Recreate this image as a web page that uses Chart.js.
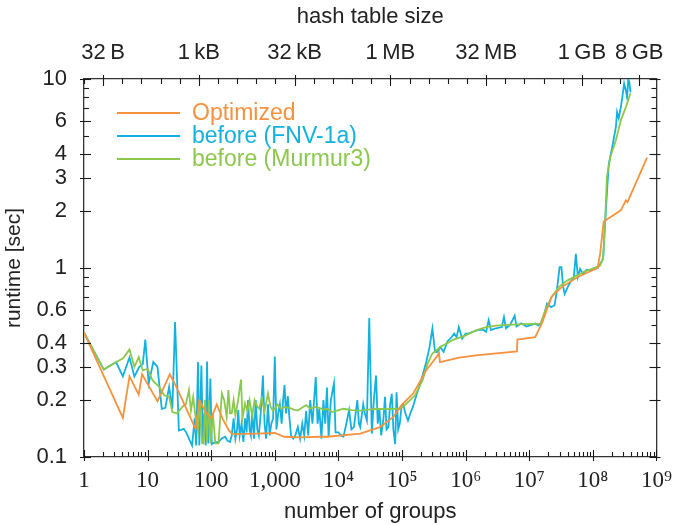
<!DOCTYPE html>
<html>
<head>
<meta charset="utf-8">
<title>runtime vs number of groups</title>
<script src="https://cdn.jsdelivr.net/npm/chart.js@4.4.0/dist/chart.umd.min.js"></script>
<style>
  html, body { margin: 0; padding: 0; background: #fff; }
</style>
</head>
<body>
<canvas id="myChart" width="682" height="525"></canvas>
<script>
// measured runtimes [sec] per number of groups
const groupsOpt = [1, 4.08, 5.19, 7.25, 8.18, 14.3, 22.3, 27.5, 56.6, 65, 84, 100, 122, 150, 186, 210, 240, 500, 1000, 1400,
  2500, 5000, 6700, 22000, 45000, 73000, 98000, 150000, 240000, 365000, 380000, 395000, 790000, 1440000, 6.4e6, 6.5e6,
  1.24e7, 1.57e7, 2.24e7, 3.2e7, 5.8e7, 1.19e8, 1.3e8, 1.48e8, 2.75e8, 3.3e8, 3.5e8, 7.1e8];
const runtimeOpt = [0.455, 0.161, 0.267, 0.214, 0.274, 0.197, 0.274, 0.24, 0.141, 0.2, 0.17, 0.16, 0.19, 0.16, 0.14, 0.133, 0.132, 0.133, 0.134, 0.128,
  0.127, 0.128, 0.128, 0.133, 0.144, 0.163, 0.188, 0.217, 0.288, 0.345, 0.356, 0.318, 0.336, 0.345, 0.362, 0.418,
  0.431, 0.508, 0.703, 0.79, 0.896, 1.0, 1.19, 1.76, 2.02, 2.28, 2.23, 3.84];

const groupsFnv = [1, 2.05, 3.2, 4.08, 5.19, 6.2, 7.4, 8.4, 9.2, 10.4, 12.3, 14.3, 16.7, 19, 21.8, 24.5, 27, 31, 37, 40.4,
  50, 55, 58, 62, 65, 70, 74, 78, 82, 86, 90, 97, 102, 115, 130, 145, 166, 180, 197, 210,
  225, 240, 255, 266, 280, 300, 320, 340, 360, 380, 400, 420, 440, 470, 500, 530, 560, 600, 650, 690,
  730, 780, 830, 880, 940, 1000, 1060, 1130, 1200, 1280, 1350, 1420, 1500, 1600, 1700, 1800, 1950, 2100, 2300, 2500,
  2700, 2900, 3100, 3350, 3600, 3900, 4400, 4700, 5000, 5400, 5800, 6200, 6600, 7000, 7600, 8500, 9000, 10000, 11000, 12000,
  13300, 14700, 16000, 17500, 19800, 21000, 22000, 24500, 26000, 28000, 30500, 33500, 36000, 39000, 41500, 44000, 47000, 51000, 54000, 57000,
  61000, 65000, 69000, 73000, 78000, 82000, 87000, 92000, 98000, 104000, 113000, 124000, 135000, 148000, 170000, 200000, 240000, 270000, 300000, 330000,
  360000, 400000, 450000, 520000, 600000, 660000, 720000, 780000, 880000, 1e6, 1.1e6, 1.3e6, 1.6e6, 1.9e6, 2.1e6, 2.3e6, 2.5e6, 3e6, 3.7e6, 4e6,
  4.3e6, 5e6, 5.9e6, 6.3e6, 7.5e6, 9e6, 1.24e7, 1.4e7, 1.6e7, 1.9e7, 2.2e7, 2.5e7, 2.7e7, 3.0e7, 3.2e7, 3.4e7, 3.6e7, 4.0e7, 4.5e7, 5.0e7,
  5.4e7, 5.8e7, 6.3e7, 7.0e7, 8.0e7, 9.3e7, 1.05e8, 1.19e8, 1.3e8, 1.45e8, 1.6e8, 1.78e8, 2.0e8, 2.3e8, 2.4e8, 2.55e8, 2.75e8, 2.9e8, 3.1e8, 3.3e8,
  3.45e8, 3.6e8, 3.75e8, 3.9e8];
const runtimeFnv = [0.455, 0.29, 0.318, 0.267, 0.336, 0.267, 0.3, 0.31, 0.418, 0.245, 0.318, 0.3, 0.18, 0.182, 0.235, 0.18, 0.518, 0.138, 0.141, 0.135,
  0.115, 0.16, 0.115, 0.318, 0.115, 0.305, 0.12, 0.17, 0.115, 0.32, 0.118, 0.26, 0.117, 0.12, 0.12, 0.125, 0.128, 0.122, 0.12, 0.13,
  0.16, 0.125, 0.14, 0.177, 0.13, 0.15, 0.12, 0.16, 0.135, 0.2, 0.14, 0.13, 0.175, 0.125, 0.2, 0.14, 0.13, 0.17, 0.27, 0.15,
  0.125, 0.19, 0.13, 0.15, 0.16, 0.34, 0.14, 0.17, 0.19, 0.15, 0.2, 0.24, 0.17, 0.21, 0.16, 0.13, 0.125, 0.13, 0.144, 0.125,
  0.15, 0.13, 0.175, 0.13, 0.2, 0.15, 0.265, 0.15, 0.18, 0.125, 0.2, 0.15, 0.233, 0.128, 0.2, 0.245, 0.135, 0.135, 0.13, 0.128,
  0.15, 0.177, 0.14, 0.144, 0.2, 0.15, 0.144, 0.19, 0.17, 0.156, 0.544, 0.133, 0.2, 0.27, 0.15, 0.18, 0.13, 0.16, 0.208, 0.14,
  0.144, 0.19, 0.216, 0.14, 0.117, 0.22, 0.14, 0.15, 0.184, 0.19, 0.17, 0.156, 0.17, 0.184, 0.215, 0.254, 0.318, 0.38, 0.478, 0.36,
  0.36, 0.382, 0.36, 0.41, 0.43, 0.45, 0.43, 0.487, 0.423, 0.45, 0.45, 0.46, 0.47, 0.47, 0.46, 0.53, 0.47, 0.48, 0.487, 0.55,
  0.48, 0.5, 0.56, 0.49, 0.51, 0.49, 0.508, 0.497, 0.52, 0.648, 0.62, 0.635, 0.75, 1.01, 1.01, 0.8, 0.73, 0.79, 0.85, 0.88,
  1.19, 0.896, 0.99, 0.93, 0.98, 0.97, 0.99, 1.0, 1.05, 1.12, 2.02, 3.57, 4.3, 5.57, 6.69, 6.2, 7.1, 8.0, 9.45, 8.7,
  8.0, 10.0, 9.6, 8.5];

const groupsMurmur = [1, 2.05, 3.2, 4.08, 5.19, 6.2, 7.25, 8.4, 10, 12, 15.2, 18.2, 21.8, 24.5, 29, 35, 40, 44.6, 48, 52,
  57, 62, 66, 72, 76, 80, 86, 92, 98, 106, 116, 130, 147, 160, 175, 186, 198, 210, 225, 240,
  265, 294, 310, 340, 370, 400, 440, 480, 530, 570, 620, 690, 780, 850, 930, 1000, 1100, 1250, 1420, 1700,
  2000, 2300, 2700, 3100, 3600, 4200, 5000, 5800, 6700, 8000, 9500, 12000, 16000, 22000, 30000, 40000, 55000, 75000, 92000, 110000,
  130000, 160000, 210000, 250000, 300000, 400000, 620000, 1e6, 1.44e6, 2.1e6, 3e6, 4.6e6, 8e6, 1.5e7, 1.8e7, 2.24e7, 3e7, 4e7, 7e7, 1.3e8,
  1.45e8, 1.56e8, 1.66e8, 1.88e8, 2.3e8, 2.75e8, 3.3e8, 3.9e8];
const runtimeMurmur = [0.455, 0.29, 0.318, 0.332, 0.37, 0.3, 0.338, 0.287, 0.293, 0.254, 0.235, 0.212, 0.208, 0.173, 0.17, 0.184, 0.19, 0.226, 0.176, 0.208,
  0.16, 0.138, 0.2, 0.118, 0.118, 0.2, 0.12, 0.2, 0.118, 0.17, 0.118, 0.118, 0.217, 0.2, 0.163, 0.226, 0.17, 0.17, 0.2, 0.166,
  0.2, 0.257, 0.16, 0.192, 0.175, 0.2, 0.165, 0.2, 0.185, 0.18, 0.204, 0.175, 0.217, 0.185, 0.176, 0.18, 0.19, 0.18, 0.184, 0.182,
  0.178, 0.176, 0.183, 0.188, 0.18, 0.184, 0.182, 0.178, 0.18, 0.173, 0.176, 0.18, 0.177, 0.176, 0.178, 0.18, 0.179, 0.18, 0.18, 0.188,
  0.198, 0.212, 0.254, 0.31, 0.353, 0.382, 0.415, 0.44, 0.468, 0.487, 0.495, 0.5, 0.505, 0.508, 0.6, 0.703, 0.8, 0.86, 0.95, 1.03,
  1.14, 1.79, 3.03, 3.86, 4.74, 6.04, 7.1, 8.4];

const seriesNames = ['Optimized', 'before (FNV-1a)', 'before (Murmur3)'];
const seriesColors = ['#F5923E', '#12B1DE', '#8CC84B'];

// tick labels
const yLabelValues = [0.1, 0.2, 0.3, 0.4, 0.6, 1, 2, 3, 4, 6, 10];
const topTickGroups = [2, 64, 2048, 65536, 2097152, 67108864, 536870912];
const topTickLabels = ['32\u2009B', '1\u2009kB', '32\u2009kB', '1\u2009MB', '32\u2009MB', '1\u2009GB', '8\u2009GB'];
const supDigits = '⁰¹²³⁴⁵⁶⁷⁸⁹';

const SANS = '"Liberation Sans", Arial, sans-serif';
const SERIF = '"Liberation Serif", "DejaVu Serif", serif';
Chart.defaults.font.family = SANS;
Chart.defaults.font.size = 22;
Chart.defaults.color = '#222';

function toPoints(xs, ys) {
  return xs.map((x, i) => ({x: x, y: ys[i]}));
}

function near(a, b) { return Math.abs(a - b) / b < 1e-6; }

function isDecade(v) {
  const e = Math.round(Math.log10(v));
  return near(v, Math.pow(10, e));
}

function decadeLabel(v) {
  const e = Math.round(Math.log10(v));
  if (e === 0) return '1';
  if (e === 1) return '10';
  if (e === 2) return '100';
  if (e === 3) return '1,000';
  return '10' + String(e).split('').map(d => supDigits[+d]).join('');
}

function logTicks(min, max) {
  const out = [];
  for (let e = Math.floor(Math.log10(min)); e <= Math.ceil(Math.log10(max)); e++) {
    for (let m = 1; m <= 9; m++) {
      const v = m * Math.pow(10, e);
      if (v >= min * 0.999999 && v <= max * 1.000001) out.push({value: v});
    }
  }
  return out;
}

// hash table size ticks: one per power of two, 16 bytes per group
function topTicks() {
  const out = [];
  for (let k = 0; k <= 29; k++) out.push({value: Math.pow(2, k)});
  return out;
}

function isYMajor(v) { return yLabelValues.some(l => near(v, l)); }
function isTopMajor(v) { return topTickGroups.some(l => near(v, l)); }

// ticks pointing into the plot, longer ones crossing the frame
const tickMarks = {
  id: 'tickMarks',
  afterDatasetsDraw(chart) {
    const {ctx, chartArea: a} = chart;
    const xs = chart.scales.x, xt = chart.scales.xTop, yl = chart.scales.y, yr = chart.scales.yRight;
    ctx.save();
    ctx.strokeStyle = '#1a1a1a';
    ctx.lineWidth = 1.1;
    const seg = (x1, y1, x2, y2) => { ctx.beginPath(); ctx.moveTo(x1, y1); ctx.lineTo(x2, y2); ctx.stroke(); };
    xs.ticks.forEach(t => {
      const p = Math.round(xs.getPixelForValue(t.value)) + 0.5;
      if (isDecade(t.value)) seg(p, a.bottom + 4, p, a.bottom - 7);
      else seg(p, a.bottom, p, a.bottom - 5);
    });
    xt.ticks.forEach(t => {
      const p = Math.round(xt.getPixelForValue(t.value)) + 0.5;
      if (isTopMajor(t.value)) seg(p, a.top - 4, p, a.top + 7);
      else seg(p, a.top, p, a.top + 5);
    });
    yl.ticks.forEach(t => {
      const p = Math.round(yl.getPixelForValue(t.value)) + 0.5;
      if (isYMajor(t.value)) seg(a.left - 4, p, a.left + 7, p);
      else seg(a.left, p, a.left + 5, p);
    });
    yr.ticks.forEach(t => {
      const p = Math.round(yr.getPixelForValue(t.value)) + 0.5;
      if (isYMajor(t.value)) seg(a.right + 4, p, a.right - 7, p);
      else seg(a.right, p, a.right - 5, p);
    });
    ctx.restore();
  }
};

// legend inside the plot, text coloured like its line
const insideLegend = {
  id: 'insideLegend',
  afterDatasetsDraw(chart) {
    const ctx = chart.ctx;
    const x0 = 117, x1 = 180, tx = 192, rows = [113, 136, 159];
    ctx.save();
    ctx.font = '23px ' + SANS;
    ctx.textBaseline = 'middle';
    chart.data.datasets.forEach((ds, i) => {
      ctx.strokeStyle = ds.borderColor;
      ctx.lineWidth = 2;
      ctx.beginPath(); ctx.moveTo(x0, rows[i]); ctx.lineTo(x1, rows[i]); ctx.stroke();
      ctx.fillStyle = ds.borderColor;
      ctx.fillText(ds.label, tx, rows[i] + 1);
    });
    ctx.restore();
  }
};

const frame = {display: true, color: '#333', width: 1.3};

var ctx = document.getElementById('myChart').getContext('2d');
var myChart = new Chart(ctx, {
  type: 'line',
  data: {
    datasets: [
      {label: seriesNames[0], data: toPoints(groupsOpt, runtimeOpt), borderColor: seriesColors[0], order: 0},
      {label: seriesNames[1], data: toPoints(groupsFnv, runtimeFnv), borderColor: seriesColors[1], order: 2},
      {label: seriesNames[2], data: toPoints(groupsMurmur, runtimeMurmur), borderColor: seriesColors[2], order: 1}
    ]
  },
  options: {
    responsive: false,
    animation: false,
    layout: {padding: 0},
    elements: {
      point: {radius: 0},
      line: {borderWidth: 1.8, tension: 0}
    },
    plugins: {
      legend: {display: false},
      tooltip: {enabled: false}
    },
    scales: {
      x: {
        type: 'logarithmic', position: 'bottom', min: 1, max: 1e9,
        grid: {display: false, drawTicks: false},
        border: frame,
        afterBuildTicks: s => { s.ticks = logTicks(1, 1e9); },
        afterFit: s => { s.height = 68; },
        ticks: {
          autoSkip: false, maxRotation: 0, padding: 10,
          font: {family: SERIF, size: 23},
          callback: v => isDecade(v) ? decadeLabel(v) : ''
        },
        title: {display: true, text: 'number of groups', font: {size: 22, lineHeight: 1}, padding: {top: 0, bottom: 2}}
      },
      xTop: {
        type: 'logarithmic', position: 'top', min: 1, max: 1e9,
        grid: {display: false, drawTicks: false},
        border: frame,
        afterBuildTicks: s => { s.ticks = topTicks(); },
        afterFit: s => { s.height = 79; },
        ticks: {
          autoSkip: false, maxRotation: 0, padding: 13,
          callback: v => {
            const i = topTickGroups.findIndex(g => near(v, g));
            return i >= 0 ? topTickLabels[i] : '';
          }
        },
        title: {display: true, text: 'hash table size', font: {size: 22, lineHeight: 1}, padding: {top: 6, bottom: 0}}
      },
      y: {
        type: 'logarithmic', position: 'left', min: 0.1, max: 10,
        grid: {display: false, drawTicks: false},
        border: frame,
        afterBuildTicks: s => { s.ticks = logTicks(0.1, 10); },
        afterFit: s => { s.width = 84; },
        ticks: {
          autoSkip: false, padding: 17,
          callback: v => isYMajor(v) ? String(+v.toPrecision(2)) : ''
        },
        title: {display: true, text: 'runtime [sec]', font: {size: 21, lineHeight: 1}, padding: {top: 4, bottom: 0}}
      },
      yRight: {
        type: 'logarithmic', position: 'right', min: 0.1, max: 10,
        grid: {display: false, drawTicks: false},
        border: frame,
        afterBuildTicks: s => { s.ticks = logTicks(0.1, 10); },
        afterFit: s => { s.width = 19; },
        ticks: {display: false}
      }
    }
  },
  plugins: [tickMarks, insideLegend]
});
</script>
</body>
</html>
